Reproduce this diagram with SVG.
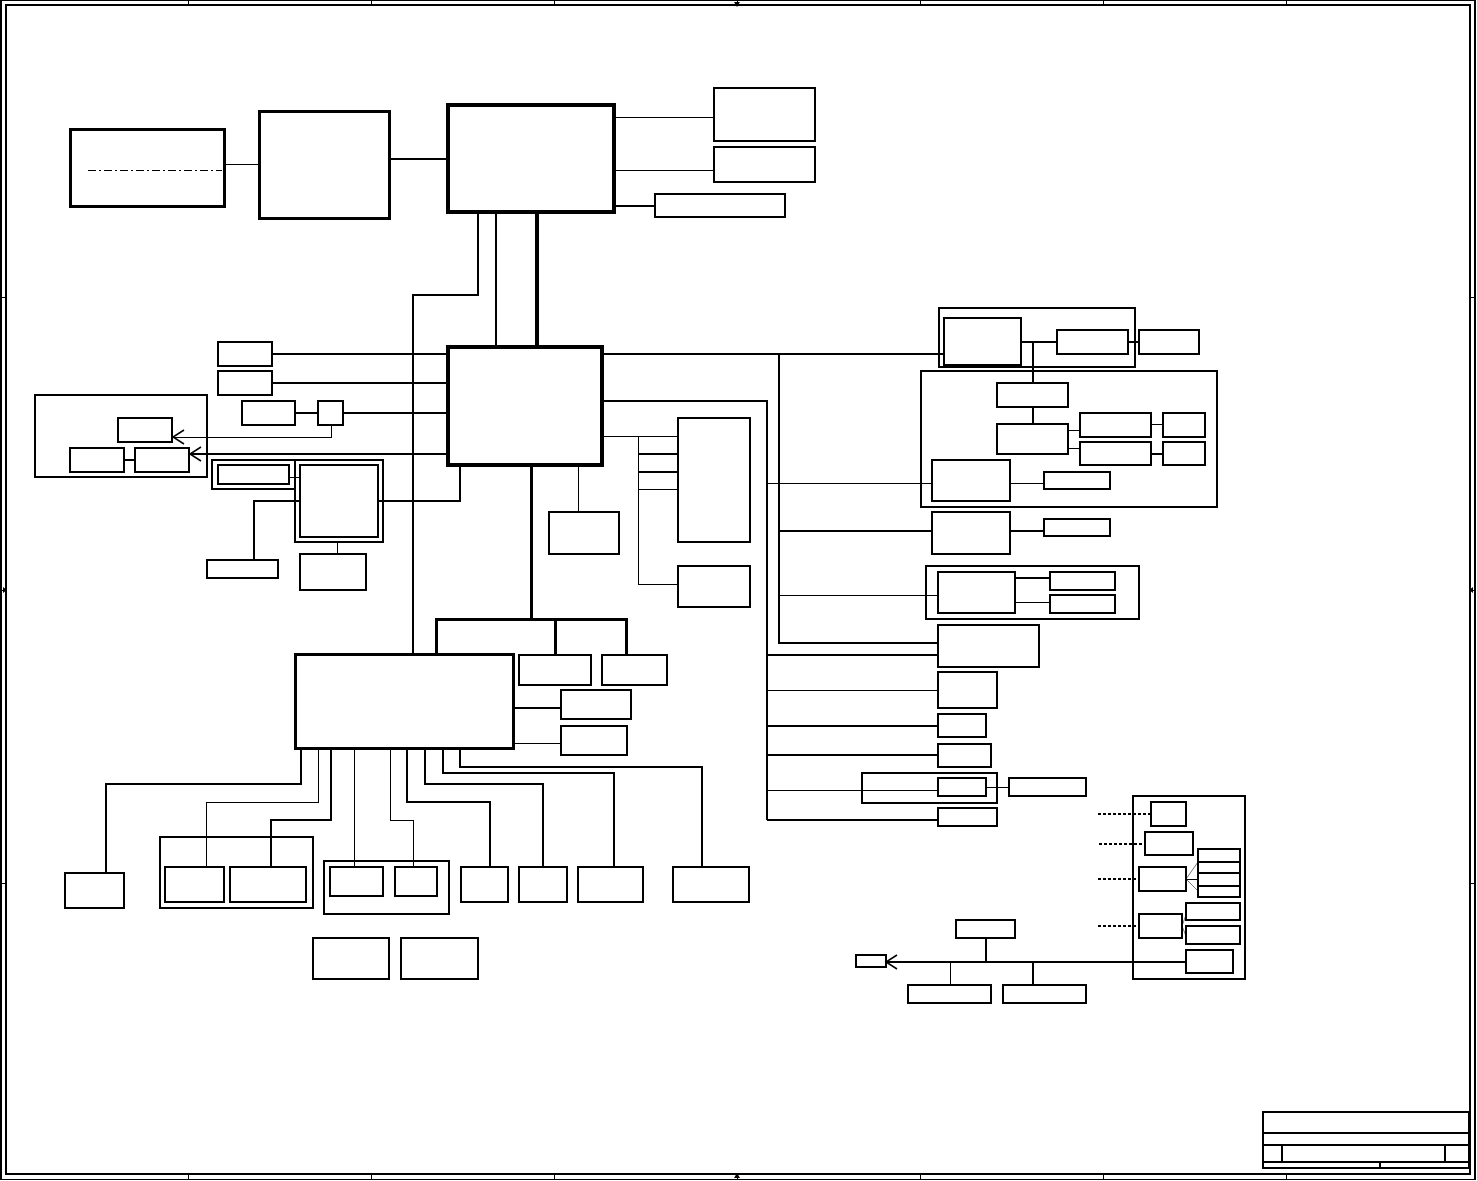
<svg xmlns="http://www.w3.org/2000/svg" width="1477" height="1181" viewBox="0 0 1477 1181">
<style>
rect, line, polyline, path { fill: none; stroke: #000; shape-rendering: crispEdges; }
.w1 { stroke-width: 1; }
.w12 { stroke-width: 1.2; }
.w15 { stroke-width: 1.5; }
.w2 { stroke-width: 2; }
.w25 { stroke-width: 2.5; }
.w3 { stroke-width: 3; }
.w35 { stroke-width: 3.5; }
.w4 { stroke-width: 4; }
.dot { stroke-width: 1.2; stroke-dasharray: 3 2; }
.gray { stroke: #777; stroke-width: 1; shape-rendering: auto; }
.arr { shape-rendering: auto; }
.tri { fill: #000; stroke: none; }
</style>
<rect x="0" y="0" width="1477" height="1181" style="fill:#fff;stroke:none"/>
<g id="frame">
  <rect x="1" y="0.5" width="1474" height="1179" class="w15"/>
  <rect x="6" y="5" width="1464" height="1169" class="w15"/>
  <path class="w1" d="M188 0V5M371 0V5M554 0V5M737 0V5M920 0V5M1103 0V5M1286 0V5M188 1174V1180M371 1174V1180M554 1174V1180M737 1174V1180M920 1174V1180M1103 1174V1180M1286 1174V1180M1 297H6M1 590H6M1 883H6M1470 297H1475M1470 590H1475M1470 883H1475"/>
  <polygon class="tri" points="734,2 740,2 737,7"/>
  <polygon class="tri" points="734,1178 740,1178 737,1173"/>
  <polygon class="tri" points="3,587 3,593 7,590"/>
  <polygon class="tri" points="1473,587 1473,593 1469,590"/>
</g>
<g id="title-block">
  <rect x="1263" y="1112" width="206" height="56" class="w15"/>
  <path class="w12" d="M1263 1133H1469M1263 1145H1469M1263 1162H1469M1282 1145V1162M1445 1145V1162M1380 1162V1168"/>
</g>
<g id="connectors">
  <line x1="224" y1="164" x2="259" y2="164" class="w1"/>
  <line x1="390" y1="159" x2="448" y2="159" class="w2"/>
  <line x1="614" y1="117" x2="714" y2="117" class="w1"/>
  <line x1="614" y1="170" x2="714" y2="170" class="w1"/>
  <line x1="614" y1="206" x2="655" y2="206" class="w2"/>
  <polyline points="478,212 478,295 413,295 413,654" class="w12"/>
  <line x1="496" y1="212" x2="496" y2="347" class="w2"/>
  <line x1="537" y1="212" x2="537" y2="347" class="w4"/>
  <line x1="272" y1="354" x2="448" y2="354" class="w2"/>
  <line x1="272" y1="383" x2="448" y2="383" class="w2"/>
  <line x1="295" y1="413" x2="318" y2="413" class="w2"/>
  <line x1="343" y1="413" x2="448" y2="413" class="w2"/>
  <polyline points="331,425 331,437 173,437" class="w1"/>
  <polyline points="184,430 173,437 184,444" class="w15 arr"/>
  <line x1="448" y1="454" x2="190" y2="454" class="w2"/>
  <polyline points="201,447 190,454 201,461" class="w15 arr"/>
  <line x1="124" y1="460" x2="135" y2="460" class="w2"/>
  <line x1="289" y1="477" x2="300" y2="477" class="w1"/>
  <polyline points="378,501 460,501 460,465" class="w2"/>
  <polyline points="300,501 254,501 254,560" class="w2"/>
  <line x1="337" y1="542" x2="337" y2="554" class="w1"/>
  <line x1="578" y1="465" x2="578" y2="512" class="w1"/>
  <line x1="531" y1="465" x2="531" y2="619" class="w3"/>
  <polyline points="436,654 436,619 626,619 626,655" class="w3"/>
  <line x1="555" y1="619" x2="555" y2="655" class="w3"/>
  <line x1="513" y1="708" x2="561" y2="708" class="w2"/>
  <line x1="513" y1="743" x2="561" y2="743" class="w1"/>
  <polyline points="301,748 301,784 106,784 106,873" class="w2"/>
  <polyline points="318,748 318,802 206,802 206,867" class="w1"/>
  <polyline points="331,748 331,820 271,820 271,867" class="w15"/>
  <line x1="354" y1="748" x2="354" y2="867" class="w1"/>
  <polyline points="390,748 390,820 413,820 413,867" class="w1"/>
  <polyline points="407,748 407,802 490,802 490,867" class="w2"/>
  <polyline points="425,748 425,784 543,784 543,867" class="w2"/>
  <polyline points="443,748 443,773 614,773 614,867" class="w2"/>
  <polyline points="460,748 460,767 702,767 702,867" class="w15"/>
  <line x1="602" y1="436" x2="678" y2="436" class="w1"/>
  <line x1="638" y1="436" x2="638" y2="584" class="w1"/>
  <line x1="638" y1="454" x2="678" y2="454" class="w2"/>
  <line x1="638" y1="472" x2="678" y2="472" class="w2"/>
  <line x1="638" y1="489" x2="678" y2="489" class="w1"/>
  <line x1="638" y1="584" x2="678" y2="584" class="w1"/>
  <line x1="602" y1="354" x2="944" y2="354" class="w25"/>
  <polyline points="602,401 767,401 767,820" class="w2"/>
  <polyline points="779,354 779,643 938,643" class="w2"/>
  <line x1="767" y1="483" x2="932" y2="483" class="w1"/>
  <line x1="779" y1="531" x2="932" y2="531" class="w2"/>
  <line x1="779" y1="595" x2="938" y2="595" class="w1"/>
  <line x1="767" y1="655" x2="938" y2="655" class="w2"/>
  <line x1="767" y1="690" x2="938" y2="690" class="w1"/>
  <line x1="767" y1="726" x2="938" y2="726" class="w2"/>
  <line x1="767" y1="755" x2="938" y2="755" class="w2"/>
  <line x1="767" y1="790" x2="938" y2="790" class="w1"/>
  <line x1="767" y1="820" x2="938" y2="820" class="w2"/>
  <line x1="986" y1="787" x2="1009" y2="787" class="w1"/>
  <line x1="1021" y1="342" x2="1057" y2="342" class="w2"/>
  <line x1="1128" y1="342" x2="1139" y2="342" class="w2"/>
  <line x1="1033" y1="342" x2="1033" y2="383" class="w2"/>
  <line x1="1033" y1="407" x2="1033" y2="424" class="w2"/>
  <line x1="1068" y1="430" x2="1080" y2="430" class="w1"/>
  <line x1="1068" y1="448" x2="1080" y2="448" class="w1"/>
  <line x1="1151" y1="424" x2="1163" y2="424" class="w1"/>
  <line x1="1151" y1="454" x2="1163" y2="454" class="w2"/>
  <line x1="1010" y1="483" x2="1044" y2="483" class="w1"/>
  <line x1="1010" y1="531" x2="1044" y2="531" class="w2"/>
  <line x1="1015" y1="578" x2="1050" y2="578" class="w2"/>
  <line x1="1015" y1="602" x2="1050" y2="602" class="w1"/>
  <line x1="1098" y1="814" x2="1151" y2="814" class="dot"/>
  <line x1="1099" y1="844" x2="1145" y2="844" class="dot"/>
  <line x1="1098" y1="879" x2="1139" y2="879" class="dot"/>
  <line x1="1098" y1="926" x2="1139" y2="926" class="dot"/>
  <line x1="1186" y1="879" x2="1198" y2="862" class="gray"/>
  <line x1="1186" y1="879" x2="1198" y2="879" class="w1"/>
  <line x1="1186" y1="879" x2="1198" y2="891" class="gray"/>
  <line x1="1182" y1="926" x2="1186" y2="915" class="gray"/>
  <line x1="1182" y1="926" x2="1186" y2="936" class="gray"/>
  <line x1="1186" y1="962" x2="886" y2="962" class="w25"/>
  <polyline points="897,955 886,962 897,969" class="w15 arr"/>
  <line x1="986" y1="938" x2="986" y2="962" class="w25"/>
  <line x1="950" y1="962" x2="950" y2="985" class="w1"/>
  <line x1="1033" y1="962" x2="1033" y2="985" class="w25"/>
</g>
<g id="n-a"><rect x="70" y="129" width="154" height="77" class="w3"/><line x1="88" y1="170" x2="222" y2="170" class="w1" stroke-dasharray="8 3 2 3"/></g>
<g id="n-b"><rect x="259" y="111" width="130" height="107" class="w3"/></g>
<g id="n-c"><rect x="448" y="105" width="166" height="107" class="w35"/></g>
<g id="n-d"><rect x="714" y="88" width="101" height="53" class="w15"/></g>
<g id="n-e"><rect x="714" y="147" width="101" height="35" class="w15"/></g>
<g id="n-f"><rect x="655" y="194" width="130" height="23" class="w15"/></g>
<g id="n-h"><rect x="448" y="347" width="154" height="118" class="w35"/></g>
<g id="n-l1"><rect x="218" y="342" width="54" height="24" class="w15"/></g>
<g id="n-l2"><rect x="218" y="371" width="54" height="24" class="w15"/></g>
<g id="n-l3"><rect x="242" y="401" width="53" height="24" class="w2"/></g>
<g id="n-l4"><rect x="318" y="401" width="25" height="24" class="w12"/></g>
<g id="g-left"><rect x="35" y="395" width="172" height="82" class="w12"/></g>
<g id="n-l5"><rect x="118" y="418" width="54" height="24" class="w2"/></g>
<g id="n-l6"><rect x="70" y="448" width="54" height="24" class="w2"/></g>
<g id="n-l7"><rect x="135" y="448" width="54" height="24" class="w2"/></g>
<g id="g-l8"><rect x="212" y="460" width="83" height="29" class="w12"/><rect x="218" y="465" width="71" height="19" class="w2"/></g>
<g id="g-l9"><rect x="295" y="460" width="88" height="82" class="w15"/><rect x="300" y="465" width="78" height="72" class="w2"/></g>
<g id="n-l10"><rect x="207" y="560" width="71" height="18" class="w15"/></g>
<g id="n-l11"><rect x="300" y="554" width="66" height="36" class="w2"/></g>
<g id="n-m1"><rect x="549" y="512" width="70" height="42" class="w15"/></g>
<g id="n-g"><rect x="295" y="654" width="218" height="94" class="w3"/></g>
<g id="n-g1"><rect x="519" y="655" width="72" height="30" class="w15"/></g>
<g id="n-g2"><rect x="602" y="655" width="65" height="30" class="w2"/></g>
<g id="n-g3"><rect x="561" y="690" width="70" height="29" class="w12"/></g>
<g id="n-g4"><rect x="561" y="726" width="66" height="29" class="w2"/></g>
<g id="n-b1"><rect x="65" y="873" width="59" height="35" class="w2"/></g>
<g id="g-b2"><rect x="160" y="837" width="153" height="71" class="w12"/></g>
<g id="n-b2"><rect x="165" y="867" width="59" height="35" class="w2"/></g>
<g id="n-b3"><rect x="230" y="867" width="76" height="35" class="w15"/></g>
<g id="g-b4"><rect x="324" y="861" width="125" height="53" class="w12"/></g>
<g id="n-b4"><rect x="330" y="867" width="53" height="29" class="w12"/></g>
<g id="n-b5"><rect x="395" y="867" width="42" height="29" class="w15"/></g>
<g id="n-b6"><rect x="461" y="867" width="47" height="35" class="w2"/></g>
<g id="n-b7"><rect x="519" y="867" width="48" height="35" class="w2"/></g>
<g id="n-b8"><rect x="578" y="867" width="65" height="35" class="w2"/></g>
<g id="n-b9"><rect x="673" y="867" width="76" height="35" class="w2"/></g>
<g id="n-b10"><rect x="313" y="938" width="76" height="41" class="w2"/></g>
<g id="n-b11"><rect x="401" y="938" width="77" height="41" class="w2"/></g>
<g id="n-r1"><rect x="678" y="418" width="72" height="124" class="w12"/></g>
<g id="n-r2"><rect x="678" y="566" width="72" height="41" class="w12"/></g>
<g id="g-r3"><rect x="939" y="308" width="196" height="59" class="w12"/></g>
<g id="n-r3"><rect x="944" y="318" width="77" height="47" class="w12"/></g>
<g id="n-r4"><rect x="1057" y="330" width="71" height="24" class="w15"/></g>
<g id="n-r5"><rect x="1139" y="330" width="60" height="24" class="w15"/></g>
<g id="g-r6"><rect x="921" y="371" width="296" height="136" class="w12"/></g>
<g id="n-r6"><rect x="997" y="383" width="71" height="24" class="w15"/></g>
<g id="n-r7"><rect x="997" y="424" width="71" height="30" class="w15"/></g>
<g id="n-r8"><rect x="1080" y="413" width="71" height="24" class="w2"/></g>
<g id="n-r9"><rect x="1080" y="442" width="71" height="23" class="w2"/></g>
<g id="n-r10"><rect x="1163" y="413" width="42" height="24" class="w2"/></g>
<g id="n-r11"><rect x="1163" y="442" width="42" height="23" class="w2"/></g>
<g id="n-r12"><rect x="932" y="460" width="78" height="41" class="w2"/></g>
<g id="n-r13"><rect x="1044" y="472" width="66" height="17" class="w15"/></g>
<g id="n-r14"><rect x="932" y="512" width="78" height="42" class="w15"/></g>
<g id="n-r15"><rect x="1044" y="519" width="66" height="17" class="w15"/></g>
<g id="g-r16"><rect x="926" y="566" width="213" height="53" class="w12"/></g>
<g id="n-r16"><rect x="938" y="572" width="77" height="41" class="w15"/></g>
<g id="n-r17"><rect x="1050" y="572" width="65" height="18" class="w15"/></g>
<g id="n-r18"><rect x="1050" y="595" width="65" height="18" class="w12"/></g>
<g id="n-r19"><rect x="938" y="625" width="101" height="42" class="w2"/></g>
<g id="n-r20"><rect x="938" y="672" width="59" height="36" class="w15"/></g>
<g id="n-r21"><rect x="938" y="714" width="48" height="23" class="w2"/></g>
<g id="n-r22"><rect x="938" y="744" width="53" height="23" class="w15"/></g>
<g id="g-r23"><rect x="862" y="773" width="135" height="30" class="w2"/></g>
<g id="n-r23"><rect x="938" y="778" width="48" height="18" class="w15"/></g>
<g id="n-r24"><rect x="1009" y="778" width="77" height="18" class="w12"/></g>
<g id="n-r25"><rect x="938" y="808" width="59" height="18" class="w15"/></g>
<g id="g-s"><rect x="1133" y="796" width="112" height="183" class="w12"/></g>
<g id="n-s1"><rect x="1151" y="802" width="35" height="24" class="w12"/></g>
<g id="n-s2"><rect x="1145" y="832" width="48" height="23" class="w12"/></g>
<g id="n-s3"><rect x="1139" y="867" width="47" height="24" class="w12"/></g>
<g id="n-s4"><rect x="1198" y="849" width="42" height="48" class="w12"/><path class="w12" d="M1198 862H1240M1198 873H1240M1198 886H1240"/></g>
<g id="n-s8"><rect x="1139" y="914" width="43" height="24" class="w12"/></g>
<g id="n-s9"><rect x="1186" y="903" width="54" height="17" class="w12"/></g>
<g id="n-s10"><rect x="1186" y="926" width="54" height="18" class="w12"/></g>
<g id="n-s11"><rect x="1186" y="950" width="47" height="23" class="w12"/></g>
<g id="n-s12"><rect x="856" y="955" width="30" height="12" class="w2"/></g>
<g id="n-s13"><rect x="956" y="920" width="59" height="18" class="w2"/></g>
<g id="n-s14"><rect x="908" y="985" width="83" height="18" class="w15"/></g>
<g id="n-s15"><rect x="1003" y="985" width="83" height="18" class="w12"/></g>
</svg>
